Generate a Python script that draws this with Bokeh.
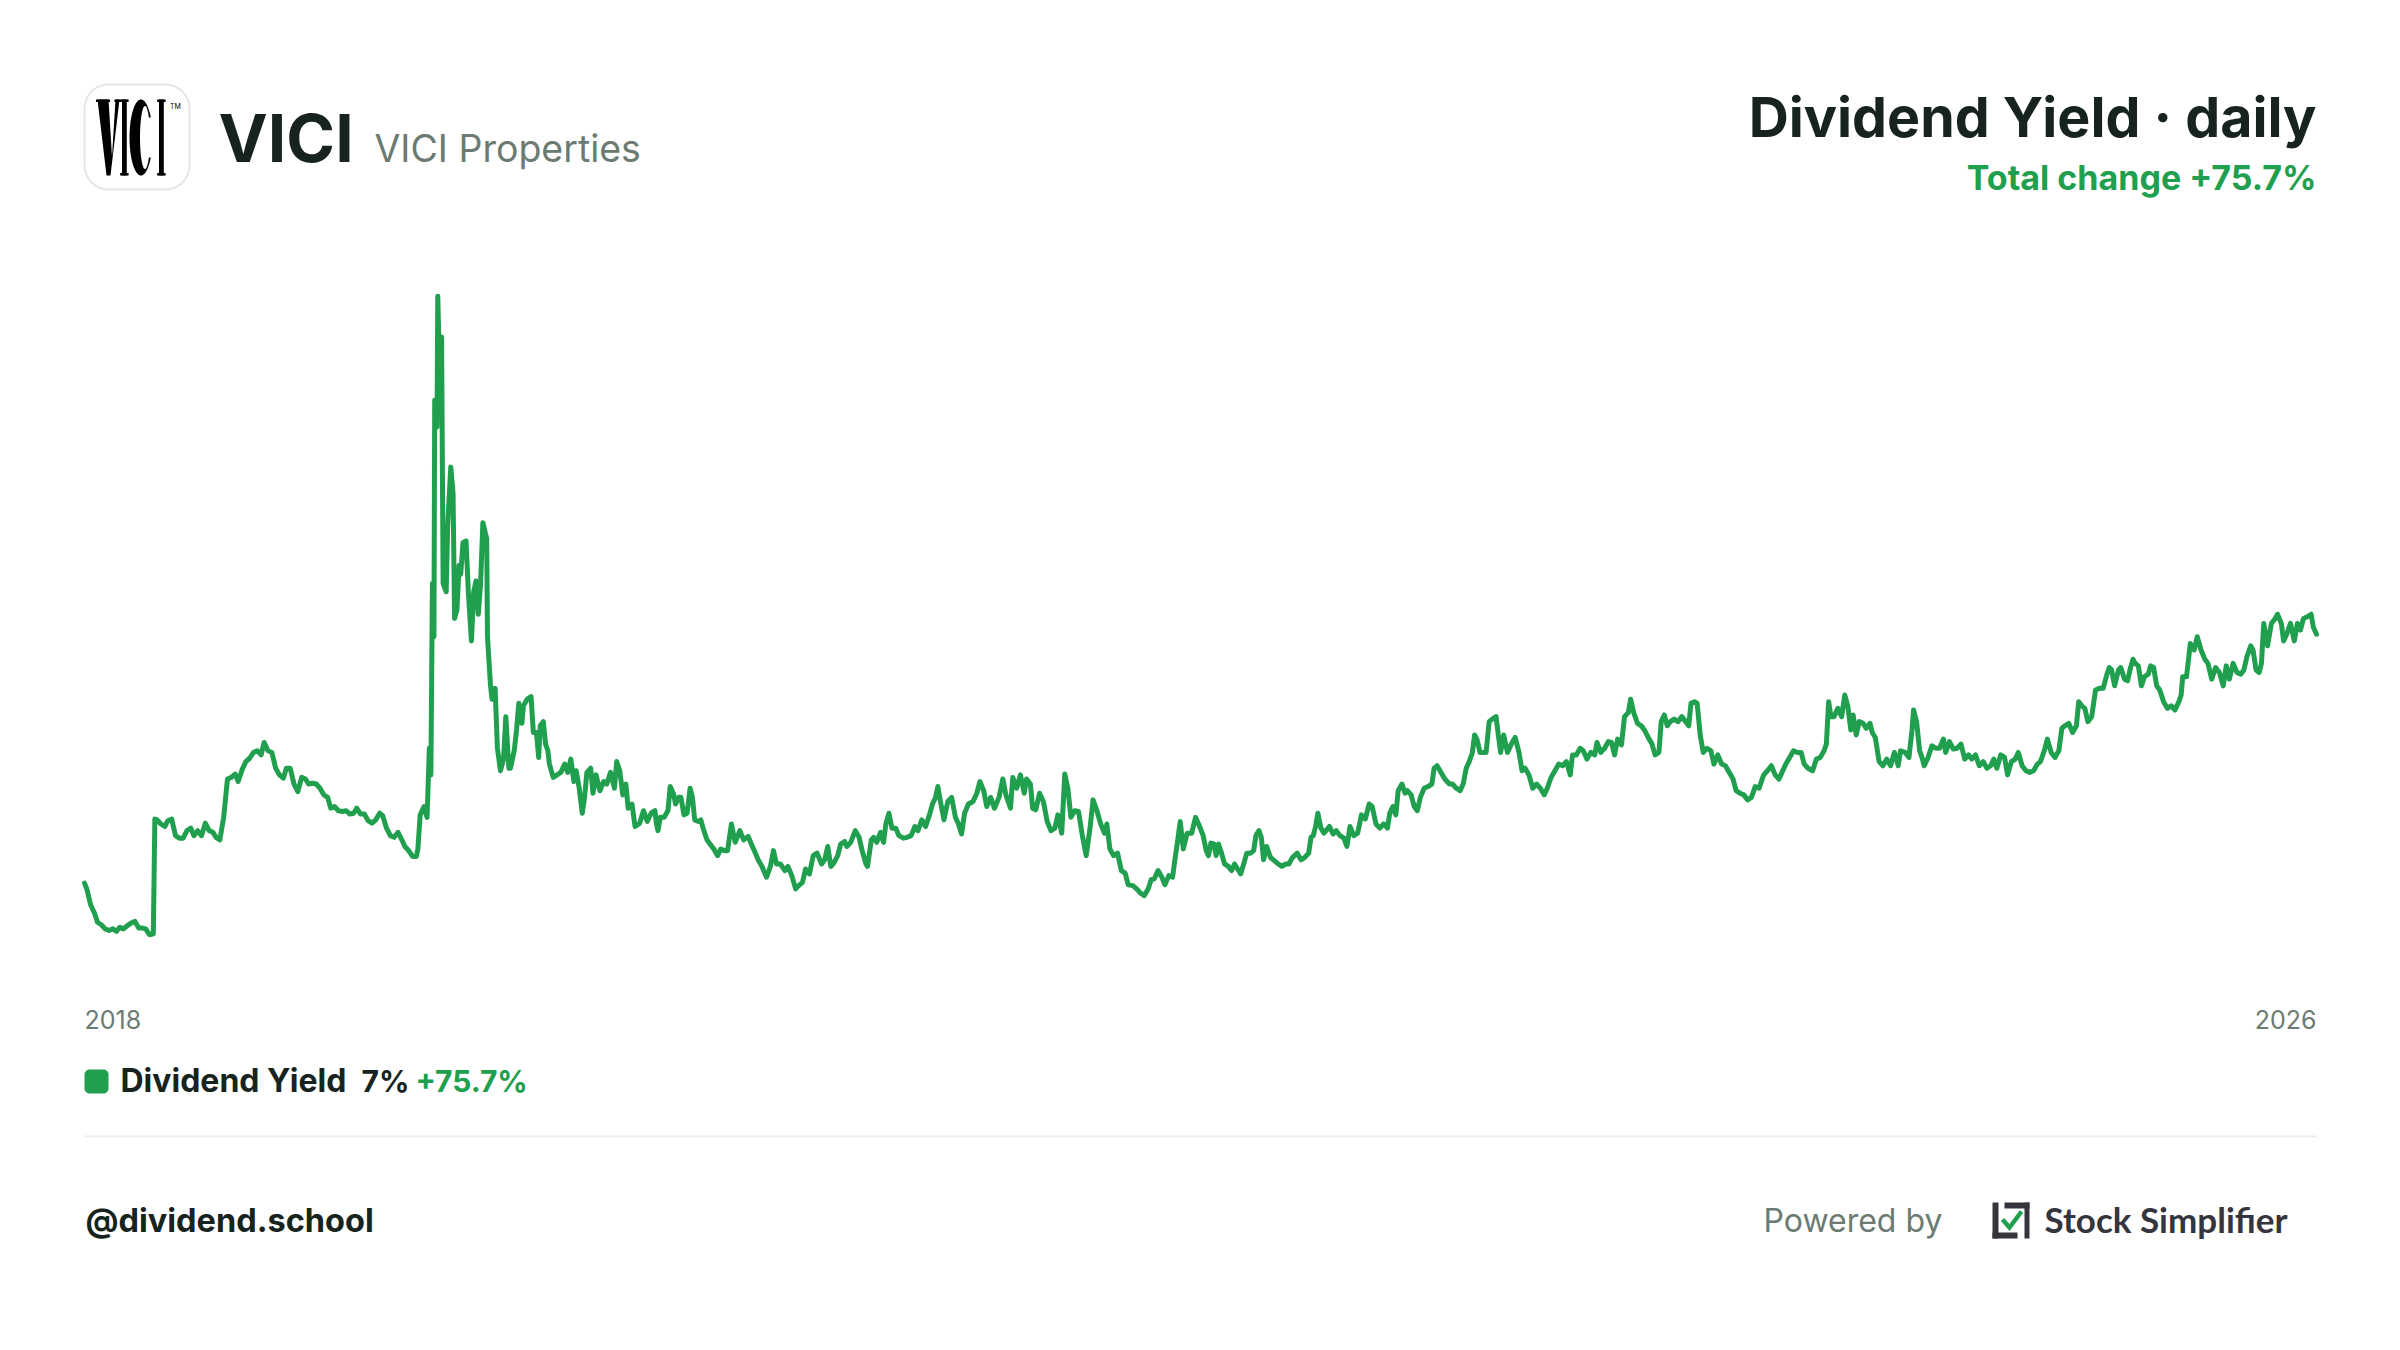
import numpy as np
import pandas as pd
from bokeh.plotting import figure
from bokeh.models import Range1d, ColumnDataSource
from bokeh.core.properties import value
from bokeh.embed import file_html
from bokeh.resources import INLINE

# ---------------- data ----------------
# days since 2018-01-02, dividend yield in %
days_a = [0, 3, 8, 13, 17, 22, 27, 32, 37, 42,
          46, 51, 56, 61, 66, 71, 76, 80, 85, 90,
          92, 95, 100, 105, 109, 114, 119, 124, 129, 134,
          139, 143, 148, 153, 158, 163, 168, 172, 177, 182,
          187, 192, 197, 201, 206, 211, 216, 221, 226, 231,
          235, 240, 245, 250, 255, 260, 264, 269, 274, 279,
          284, 289, 293, 298, 303, 308, 313, 318, 322, 327,
          332, 337, 342, 347, 352, 356, 361, 366, 371, 376,
          381, 386, 390, 395, 400, 405, 410, 415, 419, 424,
          429, 434, 436, 439, 444, 448, 451, 453, 455, 457,
          458, 461, 462, 464, 467, 469, 473, 475, 479, 482,
          484, 487, 490, 492, 495, 499, 502, 506, 509, 512,
          515, 518, 521, 526, 527, 531, 533, 537, 540, 544,
          548, 551, 555, 557, 562, 565, 568, 572, 574, 579,
          584, 587, 591, 594, 596, 600, 603, 606, 608, 613,
          618, 623, 628, 632, 636, 640, 643, 647, 651, 654,
          657, 662, 665, 669, 674, 679, 683, 688, 693, 696,
          700, 704, 708, 711, 716, 720, 725]
yield_a = [3.95, 3.88, 3.69, 3.59, 3.48, 3.45, 3.40, 3.38, 3.40, 3.37,
           3.42, 3.40, 3.44, 3.47, 3.49, 3.41, 3.41, 3.40, 3.33, 3.34,
           4.72, 4.71, 4.66, 4.63, 4.70, 4.72, 4.52, 4.49, 4.49, 4.58,
           4.61, 4.52, 4.58, 4.52, 4.67, 4.58, 4.56, 4.50, 4.47, 4.74,
           5.20, 5.22, 5.26, 5.17, 5.31, 5.41, 5.45, 5.52, 5.54, 5.49,
           5.64, 5.54, 5.52, 5.33, 5.25, 5.21, 5.33, 5.33, 5.14, 5.05,
           5.22, 5.20, 5.14, 5.15, 5.14, 5.09, 5.01, 4.98, 4.85, 4.87,
           4.82, 4.81, 4.82, 4.78, 4.79, 4.85, 4.78, 4.78, 4.70, 4.67,
           4.71, 4.79, 4.76, 4.61, 4.52, 4.50, 4.56, 4.47, 4.39, 4.34,
           4.27, 4.27, 4.36, 4.77, 4.87, 4.74, 5.57, 5.25, 7.55, 6.91,
           9.75, 9.43, 11.00, 10.24, 10.51, 7.55, 7.45, 8.25, 8.95, 8.63,
           7.13, 7.23, 7.77, 7.66, 8.04, 8.06, 7.45, 6.86, 7.45, 7.58,
           7.18, 7.55, 8.28, 8.09, 6.91, 6.32, 6.16, 6.29, 5.57, 5.30,
           5.44, 5.95, 5.33, 5.33, 5.54, 5.79, 6.11, 5.87, 6.08, 6.16,
           6.19, 5.76, 5.76, 5.46, 5.84, 5.89, 5.62, 5.54, 5.38, 5.22,
           5.25, 5.28, 5.38, 5.28, 5.44, 5.17, 5.30, 5.09, 4.79, 4.98,
           5.28, 5.33, 5.03, 5.25, 5.06, 5.17, 5.14, 5.28, 5.09, 5.41,
           5.30, 5.01, 5.14, 4.85, 4.90, 4.63, 4.66]

days_b = [726, 731, 736, 741, 746, 748, 750, 753, 758, 763,
          766, 770, 773, 777, 780, 784, 788, 792, 795, 798,
          803, 806, 809, 814, 818, 823, 828, 832, 837, 841,
          846, 851, 857, 862, 868, 872, 876, 881, 886, 892,
          897, 901, 905, 910, 916, 920, 925, 930, 934, 939,
          943, 948, 953, 958, 964, 968, 972, 976, 980, 985,
          989, 994, 997, 1002, 1008, 1013, 1017, 1022, 1024, 1029,
          1032, 1036, 1041, 1045, 1048, 1052, 1056, 1061, 1065, 1071,
          1076, 1081, 1086, 1090, 1095, 1100, 1105, 1109, 1113, 1116,
          1119, 1124, 1129, 1134, 1139, 1143, 1147, 1151, 1156, 1162,
          1167, 1171, 1176, 1180, 1185, 1190, 1196, 1201, 1205, 1211,
          1214, 1219, 1224, 1229, 1232, 1237, 1240, 1244, 1249, 1254,
          1259, 1264, 1269, 1273, 1278, 1282, 1286, 1290, 1295, 1300,
          1305, 1310, 1315, 1319, 1324, 1329, 1334, 1337, 1341, 1346,
          1351, 1356, 1361, 1365, 1371, 1376, 1381, 1386, 1391, 1395,
          1399, 1404, 1409, 1413, 1418, 1423, 1426, 1429, 1433, 1437,
          1442, 1448, 1453, 1457]
yield_b = [4.67, 4.82, 4.69, 4.79, 4.82, 4.66, 4.58, 4.74, 4.74, 4.82,
           5.11, 5.03, 4.90, 4.98, 4.98, 4.77, 4.79, 5.09, 4.98, 4.71,
           4.69, 4.71, 4.61, 4.47, 4.42, 4.36, 4.28, 4.36, 4.34, 4.34,
           4.66, 4.44, 4.58, 4.47, 4.51, 4.42, 4.34, 4.23, 4.15, 4.02,
           4.15, 4.34, 4.18, 4.18, 4.10, 4.15, 4.04, 3.88, 3.92, 3.96,
           4.12, 4.06, 4.28, 4.31, 4.18, 4.23, 4.39, 4.15, 4.19, 4.28,
           4.42, 4.45, 4.39, 4.44, 4.58, 4.50, 4.34, 4.18, 4.15, 4.47,
           4.50, 4.44, 4.56, 4.44, 4.66, 4.79, 4.61, 4.61, 4.52, 4.49,
           4.50, 4.52, 4.63, 4.58, 4.71, 4.63, 4.77, 4.90, 4.98, 5.11,
           4.95, 4.71, 4.93, 4.98, 4.74, 4.66, 4.54, 4.79, 4.90, 4.93,
           5.03, 5.17, 5.06, 4.87, 4.98, 4.85, 4.98, 5.20, 5.01, 4.85,
           5.22, 5.09, 5.25, 5.03, 5.20, 5.14, 4.85, 4.83, 5.03, 4.93,
           4.69, 4.58, 4.61, 4.77, 4.55, 5.26, 5.09, 4.74, 4.82, 4.81,
           4.52, 4.28, 4.61, 4.95, 4.82, 4.66, 4.55, 4.66, 4.36, 4.28,
           4.31, 4.10, 4.07, 3.93, 3.92, 3.88, 3.83, 3.80, 3.88, 3.99,
           4.00, 4.10, 4.02, 3.93, 4.04, 4.02, 4.23, 4.42, 4.69, 4.36,
           4.55, 4.55, 4.74, 4.66]

days_c = [1463, 1467, 1470, 1473, 1477, 1480, 1483, 1487, 1491, 1496,
          1500, 1504, 1508, 1512, 1516, 1520, 1525, 1529, 1532, 1536,
          1539, 1542, 1546, 1551, 1556, 1561, 1566, 1571, 1575, 1580,
          1586, 1591, 1596, 1601, 1604, 1607, 1610, 1613, 1617, 1621,
          1628, 1633, 1637, 1642, 1647, 1651, 1655, 1660, 1665, 1670,
          1675, 1680, 1684, 1689, 1694, 1699, 1704, 1707, 1711, 1715,
          1718, 1723, 1727, 1730, 1735, 1739, 1743, 1747, 1752, 1757,
          1762, 1765, 1769, 1774, 1779, 1785, 1789, 1794, 1799, 1803,
          1807, 1811, 1815, 1818, 1821, 1825, 1830, 1833, 1837, 1841,
          1846, 1849, 1852, 1856, 1861, 1866, 1871, 1876, 1880, 1884,
          1889, 1894, 1899, 1904, 1909, 1913, 1918, 1923, 1928, 1933,
          1938, 1943, 1946, 1951, 1956, 1960, 1965, 1970, 1975, 1978,
          1983, 1988, 1993, 1997, 2001, 2005, 2010, 2014, 2019, 2022,
          2026, 2031, 2036, 2040, 2045, 2050, 2054, 2059, 2062, 2066,
          2070, 2074, 2079, 2084, 2089, 2094, 2098, 2101, 2106, 2109,
          2113, 2117, 2122, 2127, 2131, 2136, 2141, 2146, 2151, 2156,
          2160, 2165, 2170, 2175, 2180, 2185, 2190]
yield_c = [4.52, 4.34, 4.28, 4.43, 4.42, 4.28, 4.42, 4.31, 4.18, 4.15,
           4.10, 4.18, 4.12, 4.06, 4.18, 4.31, 4.31, 4.34, 4.52, 4.58,
           4.50, 4.23, 4.39, 4.26, 4.22, 4.18, 4.15, 4.18, 4.18, 4.26,
           4.31, 4.23, 4.26, 4.31, 4.50, 4.52, 4.63, 4.79, 4.61, 4.55,
           4.63, 4.54, 4.58, 4.52, 4.49, 4.39, 4.63, 4.52, 4.55, 4.77,
           4.72, 4.90, 4.87, 4.66, 4.61, 4.66, 4.61, 4.79, 4.87, 4.77,
           5.06, 5.14, 5.03, 5.06, 5.01, 4.87, 4.82, 4.98, 5.09, 5.11,
           5.14, 5.33, 5.36, 5.28, 5.20, 5.14, 5.14, 5.09, 5.06, 5.14,
           5.33, 5.41, 5.52, 5.73, 5.68, 5.52, 5.52, 5.52, 5.89, 5.92,
           5.95, 5.73, 5.52, 5.73, 5.52, 5.62, 5.70, 5.52, 5.30, 5.33,
           5.25, 5.09, 5.14, 5.09, 5.01, 5.09, 5.22, 5.30, 5.38, 5.36,
           5.41, 5.25, 5.49, 5.49, 5.57, 5.54, 5.44, 5.52, 5.49, 5.64,
           5.52, 5.57, 5.65, 5.64, 5.49, 5.68, 5.61, 5.95, 6.00, 6.16,
           6.00, 5.87, 5.84, 5.79, 5.70, 5.62, 5.49, 5.52, 5.89, 5.97,
           5.84, 5.89, 5.92, 5.89, 5.95, 5.89, 5.84, 6.11, 6.13, 6.11,
           5.73, 5.52, 5.57, 5.54, 5.38, 5.49, 5.38, 5.36, 5.28, 5.20,
           5.06, 5.03, 5.01, 4.95, 4.98, 5.11, 5.09]

days_d = [2196, 2201, 2206, 2211, 2216, 2220, 2225, 2230, 2235, 2240,
          2245, 2249, 2254, 2260, 2265, 2270, 2275, 2278, 2281, 2284,
          2288, 2293, 2298, 2302, 2306, 2310, 2313, 2317, 2321, 2326,
          2330, 2335, 2338, 2342, 2347, 2352, 2357, 2362, 2367, 2372,
          2375, 2381, 2386, 2390, 2392, 2396, 2400, 2403, 2406, 2411,
          2416, 2421, 2426, 2431, 2434, 2439, 2444, 2449, 2454, 2459,
          2464, 2468, 2473, 2478, 2483, 2488, 2493, 2497, 2501, 2506,
          2511, 2515, 2520, 2525, 2529, 2534, 2539, 2544, 2549, 2554,
          2558, 2563, 2567, 2572, 2577, 2582, 2586, 2590, 2595, 2600,
          2605, 2608, 2612, 2616, 2620, 2625, 2630, 2635, 2640, 2645,
          2648, 2651, 2655, 2660, 2663, 2668, 2672, 2675, 2679, 2682,
          2686, 2690, 2694, 2699, 2702, 2706, 2710, 2714, 2719, 2724,
          2729, 2734, 2739, 2742, 2744, 2749, 2754, 2759, 2763, 2768,
          2773, 2777, 2782, 2787, 2792, 2797, 2801, 2805, 2810, 2815,
          2820, 2824, 2828, 2833, 2836, 2840, 2844, 2847, 2850, 2855,
          2860, 2865, 2868, 2873, 2876, 2880, 2885, 2890, 2894, 2898,
          2902, 2907, 2912, 2915, 2919]
yield_d = [5.25, 5.30, 5.36, 5.25, 5.20, 5.28, 5.38, 5.46, 5.54, 5.52,
           5.52, 5.38, 5.33, 5.30, 5.44, 5.46, 5.54, 5.62, 6.13, 5.95,
           5.95, 6.05, 5.95, 6.21, 6.08, 5.79, 5.97, 5.73, 5.89, 5.87,
           5.81, 5.87, 5.76, 5.70, 5.41, 5.36, 5.44, 5.36, 5.52, 5.36,
           5.54, 5.52, 5.46, 5.79, 6.03, 5.89, 5.54, 5.46, 5.36, 5.46,
           5.60, 5.57, 5.57, 5.68, 5.52, 5.65, 5.56, 5.57, 5.62, 5.44,
           5.49, 5.44, 5.49, 5.36, 5.41, 5.33, 5.36, 5.44, 5.33, 5.49,
           5.46, 5.25, 5.41, 5.44, 5.52, 5.36, 5.30, 5.28, 5.30, 5.38,
           5.41, 5.54, 5.68, 5.52, 5.46, 5.54, 5.81, 5.84, 5.87, 5.76,
           5.84, 6.13, 6.08, 6.05, 5.89, 5.95, 6.27, 6.29, 6.29, 6.46,
           6.54, 6.51, 6.32, 6.51, 6.54, 6.40, 6.38, 6.51, 6.64, 6.59,
           6.56, 6.32, 6.43, 6.46, 6.56, 6.54, 6.32, 6.27, 6.13, 6.05,
           6.08, 6.03, 6.13, 6.21, 6.43, 6.43, 6.83, 6.75, 6.91, 6.75,
           6.64, 6.59, 6.40, 6.54, 6.48, 6.32, 6.56, 6.40, 6.59, 6.48,
           6.46, 6.51, 6.67, 6.80, 6.75, 6.51, 6.48, 6.59, 7.07, 6.80,
           7.07, 7.13, 7.18, 7.07, 6.86, 6.94, 7.07, 6.86, 7.07, 6.99,
           7.13, 7.15, 7.18, 7.02, 6.94]

START_DATE = "2018-01-02"
YEAR_LABELS = ["2018", "2026"]
TICKER = "VICI"
COMPANY = "VICI Properties"
METRIC = "Dividend Yield"
FREQ = "daily"
TOTAL_CHANGE = "+75.7%"
LAST_VALUE_LABEL = "7%"
HANDLE = "@dividend.school"
POWERED = "Powered by"
BRAND = "Stock Simplifier"

# ---------------- styling / layout ----------------
GREEN = "#20a04e"
DARK = "#17231d"
GRAY = "#6b7b72"
BRAND_DARK = "#35353d"
FONT = "Inter"
BASE_FIX = 0.38          # baseline correction (fraction of font size)

W, H, M = 2384, 1334, 0          # figure size, offset of figure in picture
CL, CR, CT, CB = 84, 2316, 270, 970   # chart area in picture pixels
Y_TOP, Y_BOT = 11.31, 2.90            # yield shown at top / bottom of chart area

days = days_a + days_b + days_c + days_d
yields = yield_a + yield_b + yield_c + yield_d
assert len(days) == len(yields)

dates = pd.Timestamp(START_DATE) + pd.to_timedelta(days, unit="D")
t0 = dates[0].value / 1e6
t1 = dates[-1].value / 1e6
mpp = (t1 - t0) / (CR - CL)
x_start = t0 - (CL - M) * mpp
x_end = t1 + (W + M - CR) * mpp
k = (Y_TOP - Y_BOT) / (CB - CT)
y_end = Y_TOP + (CT - M) * k
y_start = Y_BOT - (H + M - CB) * k

p = figure(width=W, height=H, x_axis_type="datetime",
           x_range=Range1d(x_start, x_end), y_range=Range1d(y_start, y_end),
           x_axis_location=None, y_axis_location=None,
           toolbar_location=None, output_backend="svg", min_border=0,
           background_fill_color="white", border_fill_color="white",
           outline_line_color=None)
p.xgrid.visible = False
p.ygrid.visible = False
p.extra_x_ranges = {"px": Range1d(M, W + M)}
p.extra_y_ranges = {"py": Range1d(H + M, M)}

PX = dict(x_range_name="px", y_range_name="py")


def txt(x, y, s, size, color, bold=False, align="left", font=FONT, xr="px"):
    p.text(x=[x], y=[y - BASE_FIX * size], text=[s], text_font=value(font),
           text_font_size=f"{size}px",
           text_font_style="bold" if bold else "normal",
           text_color=color, text_align=align, text_baseline="alphabetic",
           x_range_name=xr, y_range_name="py")


def rrect(x0, y0, x1, y1, r, n=10):
    xs, ys = [], []
    for cx, cy, a0 in [(x0 + r, y0 + r, 180), (x1 - r, y0 + r, 270),
                       (x1 - r, y1 - r, 0), (x0 + r, y1 - r, 90)]:
        a = np.radians(np.linspace(a0, a0 + 90, n))
        xs += list(cx + r * np.cos(a))
        ys += list(cy + r * np.sin(a))
    return xs, ys


def ell(cx, cy, w, h, n=60):
    a = np.linspace(0, 2 * np.pi, n)
    return list(cx + w / 2 * np.cos(a)), list(cy + h / 2 * np.sin(a))


# ---- header: logo box ----
bx, by, bs = 84, 84, 105
xs, ys = rrect(bx, by, bx + bs, by + bs, 24)
p.patch(xs, ys, fill_color="white", line_color="#e6e6e6", line_width=2, **PX)
# stylised VICI wordmark (tall condensed serif letters)
LT, LB = 15, 91
p.patch([bx + 13, bx + 24, bx + 27.5, bx + 31, bx + 35, bx + 26, bx + 22],
        [by + LT, by + LT, by + 72, by + LT, by + LT, by + LB, by + LB],
        fill_color="black", line_color=None, **PX)
p.quad(left=[bx + 11.5, bx + 30], right=[bx + 25.5, bx + 36.5],
       top=[by + LT, by + LT], bottom=[by + LT + 2.5, by + LT + 2.5],
       fill_color="black", line_color=None, **PX)
for sx in (37.5, 74.5):
    p.quad(left=[bx + sx, bx + sx - 1.8, bx + sx - 1.8],
           right=[bx + sx + 4.8, bx + sx + 6.6, bx + sx + 6.6],
           top=[by + LT, by + LT, by + LB - 2.5],
           bottom=[by + LB, by + LT + 2.5, by + LB],
           fill_color="black", line_color=None, **PX)
ex, ey = ell(bx + 56.5, by + 53, 23, 76)
p.patch(ex, ey, fill_color="black", line_color=None, **PX)
ex, ey = ell(bx + 60.5, by + 53, 10, 63)
p.patch(ex, ey, fill_color="white", line_color=None, **PX)
p.quad(left=[bx + 63], right=[bx + 70], top=[by + 33], bottom=[by + 73],
       fill_color="white", line_color=None, **PX)
txt(bx + 85.5, by + 24.5, "TM", 7, "black")

txt(218, 163, TICKER, 66, DARK, bold=True)
txt(374, 162, COMPANY, 37.5, GRAY)
txt(CR, 137, f"{METRIC} \u00b7 {FREQ}", 55.5, DARK, bold=True, align="right")
txt(CR, 190, f"Total change {TOTAL_CHANGE}", 34, GREEN, bold=True, align="right")

# ---- the series ----
src = ColumnDataSource(dict(date=dates, y=yields))
p.line("date", "y", source=src, line_color=GREEN, line_width=5,
       line_join="round", line_cap="round")

# period labels at the ends of the series
txt(t0, 1028, YEAR_LABELS[0], 25, GRAY, xr="default")
txt(t1, 1028, YEAR_LABELS[1], 25, GRAY, align="right", xr="default")

# ---- legend ----
xs, ys = rrect(84, 1069, 108, 1093, 5)
p.patch(xs, ys, fill_color=GREEN, line_color=None, **PX)
txt(120, 1092, METRIC, 32, DARK, bold=True)
txt(361, 1092, LAST_VALUE_LABEL, 30, DARK, bold=True)
txt(415, 1092, TOTAL_CHANGE, 30, GREEN, bold=True)

# separator
p.line([CL, CR], [1136, 1136], line_color="#ececec", line_width=2, **PX)

# ---- footer ----
txt(85, 1232, HANDLE, 32.5, DARK, bold=True)
txt(1763, 1232, POWERED, 32, GRAY)
p.quad(left=[1992, 1992, 2004, 2024], right=[1998, 2017, 2029, 2029],
       top=[1202, 1232, 1202, 1202], bottom=[1238, 1238, 1208, 1238],
       fill_color=BRAND_DARK, line_color=None, **PX)
p.line([2002, 2009, 2021], [1219, 1227, 1211], line_color=GREEN,
       line_width=4.5, line_join="miter", **PX)
txt(2044, 1232, BRAND, 35, BRAND_DARK, bold=True, font="Lato")

open("out.html", "w").write(file_html(p, INLINE))
